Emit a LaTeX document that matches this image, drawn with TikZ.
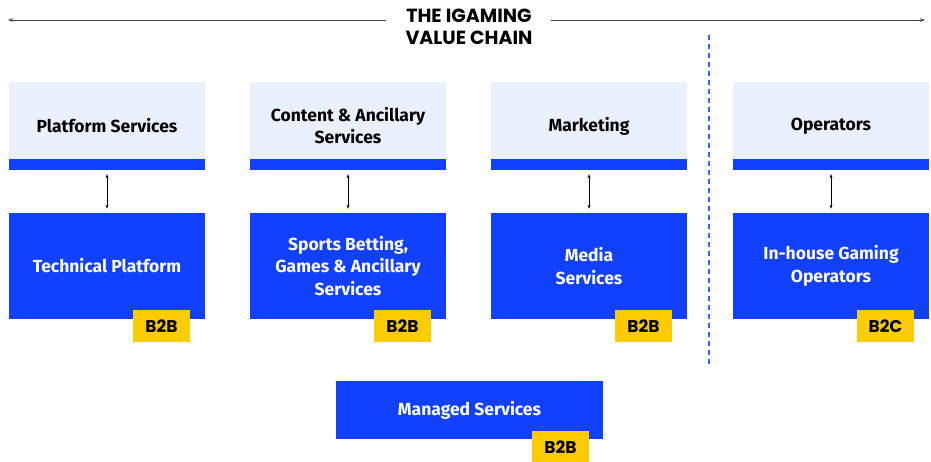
\documentclass[tikz,border=0pt]{standalone}
\usepackage{fontspec}
\setmainfont{Fira Sans}
\newfontfamily\titlefont{Poppins}
\usetikzlibrary{arrows.meta,calc}
\definecolor{vblue}{HTML}{1140FF}
\definecolor{vlight}{HTML}{EAF0FD}
\definecolor{vyellow}{HTML}{FFCC00}
\definecolor{vgray}{HTML}{444444}
\definecolor{vdash}{HTML}{3D63E8}
\tikzset{
  header/.style={fill=vlight, draw=none, minimum width=196pt, minimum height=88pt, inner sep=0pt,
     font=\fontsize{17.5}{22}\selectfont\bfseries, text=black, align=center},
  mainbox/.style={fill=vblue, draw=none, minimum width=196pt, minimum height=106pt, inner sep=0pt,
     font=\fontsize{17.5}{22.5}\selectfont\bfseries, text=white, align=center},
  strip/.style={fill=vblue, draw=none},
  badge/.style={fill=vyellow, draw=none, minimum width=57pt, minimum height=32pt, inner sep=0pt,
     font=\titlefont\fontsize{17}{18}\selectfont\bfseries, text=black, anchor=north east},
  link/.style={{Stealth[length=4pt,width=3pt]}-{Stealth[length=4pt,width=3pt]}, line width=0.7pt, black,
     shorten >=4pt, shorten <=4pt},
  topline/.style={line width=1pt, vgray},
}
\begin{document}
\begin{tikzpicture}[x=1pt,y=-1pt]
\useasboundingbox (0,0) rectangle (931,461);
% title
\node[font=\titlefont\fontsize{19}{22}\selectfont\bfseries, align=center, text=black, inner sep=0pt] (title) at (469,26.5) {THE IGAMING\\VALUE CHAIN};
\coordinate (tl) at (8,20);
\coordinate (tr) at (925,20);
\coordinate (tml) at (386,20);
\coordinate (tmr) at (551,20);
\draw[topline, {Stealth[length=5pt,width=3.5pt]}-] (tl) -- (tml);
\draw[topline, -{Stealth[length=5pt,width=3.5pt]}] (tmr) -- (tr);
% dashed divider
\coordinate (d1) at (709,35);
\coordinate (d2) at (709,365);
\draw[vdash, line width=1.2pt, dash pattern=on 5pt off 4pt] (d1) -- (d2);
% columns
\foreach \n/\x/\h/\m/\b in {
  a/107/{Platform Services}/{Technical Platform}/B2B,
  b/348/{Content \& Ancillary\\Services}/{Sports Betting,\\Games \& Ancillary\\Services}/B2B,
  c/589/{Marketing}/{Media\\Services}/B2B,
  d/831/{\raisebox{-3pt}{Operators}}/{\raisebox{-2pt}{In-house Gaming}\\\raisebox{-2pt}{Operators}}/B2C} {
  \node[header] (h\n) at (\x,126) {\h};
  \fill[strip] ($(h\n.south west)+(0,-11)$) rectangle (h\n.south east);
  \node[mainbox] (m\n) at (\x,266) {\m};
  \node[badge] (b\n) at ($(m\n.north east)+(-15,97)$) {\b};
  \draw[link] (h\n.south) -- (m\n.north);
}
% managed services
\node[mainbox, minimum width=267pt, minimum height=58pt] (ms) at (469.5,410) {\raisebox{-2pt}{Managed Services}};
\node[badge] (bms) at ($(ms.north east)+(-14,50)$) {B2B};
\end{tikzpicture}
\end{document}
